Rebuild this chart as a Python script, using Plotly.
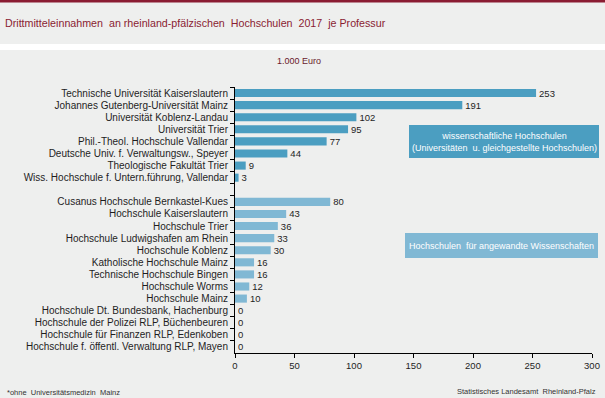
import plotly.graph_objects as go

# ---- data ----
uni_names = [
    "Technische Universität Kaiserslautern",
    "Johannes Gutenberg-Universität Mainz",
    "Universität Koblenz-Landau",
    "Universität Trier",
    "Phil.-Theol. Hochschule Vallendar",
    "Deutsche Univ. f. Verwaltungsw., Speyer",
    "Theologische Fakultät Trier",
    "Wiss. Hochschule f. Untern.führung, Vallendar",
]
uni_values = [253, 191, 102, 95, 77, 44, 9, 3]

fh_names = [
    "Cusanus Hochschule Bernkastel-Kues",
    "Hochschule Kaiserslautern",
    "Hochschule Trier",
    "Hochschule Ludwigshafen am Rhein",
    "Hochschule Koblenz",
    "Katholische Hochschule Mainz",
    "Technische Hochschule Bingen",
    "Hochschule Worms",
    "Hochschule Mainz",
    "Hochschule Dt. Bundesbank, Hachenburg",
    "Hochschule der Polizei RLP, Büchenbeuren",
    "Hochschule für Finanzen RLP, Edenkoben",
    "Hochschule f. öffentl. Verwaltung RLP, Mayen",
]
fh_values = [80, 43, 36, 33, 30, 16, 16, 12, 10, 0, 0, 0, 0]

gap_label = " "
x_ticks = [0, 50, 100, 150, 200, 250, 300]

title = "Drittmitteleinnahmen  an rheinland-pfälzischen  Hochschulen  2017  je Professur"
unit = "1.000 Euro"
footnote = "*ohne  Universitätsmedizin  Mainz"
source = "Statistisches Landesamt  Rheinland-Pfalz"
uni_box_text = "wissenschaftliche Hochschulen<br>(Universitäten  u. gleichgestellte Hochschulen)"
fh_box_text = "Hochschulen  für angewandte Wissenschaften"

# ---- style ----
W, H = 605, 398
L, R, T, B = 235, 592, 87, 353
FONT = "Liberation Sans, Arial, sans-serif"
BG = "#EEEFEE"
MAROON = "#8A1C32"
UNI_COL = "#4B9EC1"
FH_COL = "#80B8D4"
TXT = "#1E1E1E"


def px(xp):
    return (xp - L) / (R - L)


def py(yp):
    return (B - yp) / (B - T)


categories = uni_names + [gap_label] + fh_names

fig = go.Figure()
fig.add_trace(go.Bar(
    y=uni_names, x=uni_values, orientation="h",
    marker=dict(color=UNI_COL, line=dict(width=0)),
    text=[str(v) for v in uni_values], textposition="outside", constraintext="none",
    textfont=dict(size=9.5, color=TXT, family=FONT),
    cliponaxis=False, showlegend=False, hoverinfo="x+y",
))
fig.add_trace(go.Bar(
    y=[gap_label], x=[0], orientation="h",
    marker=dict(color="rgba(0,0,0,0)"), showlegend=False, hoverinfo="skip",
))
fig.add_trace(go.Bar(
    y=fh_names, x=fh_values, orientation="h",
    marker=dict(color=FH_COL, line=dict(width=0)),
    text=[str(v) for v in fh_values], textposition="outside", constraintext="none",
    textfont=dict(size=9.5, color=TXT, family=FONT),
    cliponaxis=False, showlegend=False, hoverinfo="x+y",
))

shapes = [
    # maroon top line
    dict(type="rect", xref="paper", yref="paper", x0=px(0), x1=px(W), y0=py(2.5), y1=py(0),
         fillcolor=MAROON, line=dict(width=0), layer="below"),
    # white separator strip
    dict(type="rect", xref="paper", yref="paper", x0=px(0), x1=px(W), y0=py(50), y1=py(44),
         fillcolor="white", line=dict(width=0), layer="below"),
    # group boxes
    dict(type="rect", xref="paper", yref="paper", x0=px(409), x1=px(599), y0=py(158), y1=py(125),
         fillcolor=UNI_COL, line=dict(width=0)),
    dict(type="rect", xref="paper", yref="paper", x0=px(405), x1=px(598), y0=py(258), y1=py(233),
         fillcolor=FH_COL, line=dict(width=0)),
]

annotations = [
    dict(text=title, xref="paper", yref="paper", x=px(3), y=py(23), xanchor="left", yanchor="middle",
         showarrow=False, font=dict(size=10.7, color=MAROON, family=FONT)),
    dict(text=unit, xref="paper", yref="paper", x=px(299), y=py(61), xanchor="center", yanchor="middle",
         showarrow=False, font=dict(size=9, color="#6A1A2C", family=FONT)),
    dict(text=footnote, xref="paper", yref="paper", x=px(5), y=py(392), xanchor="left", yanchor="middle",
         showarrow=False, font=dict(size=7.5, color="#333", family=FONT)),
    dict(text=source, xref="paper", yref="paper", x=px(598), y=py(391), xanchor="right", yanchor="middle",
         showarrow=False, font=dict(size=7.5, color="#333", family=FONT)),
    dict(text=uni_box_text, xref="paper", yref="paper", x=px(504), y=py(141.5), xanchor="center",
         yanchor="middle", showarrow=False, font=dict(size=9, color="white", family=FONT)),
    dict(text=fh_box_text, xref="paper", yref="paper", x=px(501.5), y=py(245.5), xanchor="center",
         yanchor="middle", showarrow=False, font=dict(size=9, color="white", family=FONT)),
]

fig.update_layout(
    width=W, height=H,
    margin=dict(l=L, r=W - R, t=T, b=H - B, pad=0, autoexpand=False),
    paper_bgcolor=BG, plot_bgcolor=BG,
    barmode="overlay", bargap=0.33,
    font=dict(family=FONT, size=9, color=TXT),
    shapes=shapes, annotations=annotations,
    xaxis=dict(
        range=[0, 300], tickvals=x_ticks, ticktext=[str(v) for v in x_ticks],
        showgrid=False, zeroline=False, showline=True, linecolor="black", linewidth=1,
        ticks="outside", ticklen=4, tickcolor="black", tickfont=dict(size=9.5, color=TXT),
        fixedrange=True,
    ),
    yaxis=dict(
        type="category", categoryorder="array", categoryarray=categories,
        autorange="reversed", showgrid=False, zeroline=False,
        showline=True, linecolor="black", linewidth=1,
        ticks="outside", ticklen=4, tickcolor="black", tickson="boundaries",
        ticklabelstandoff=4,
        tickfont=dict(size=10, color=TXT), fixedrange=True,
    ),
)

fig.write_html(
    "out.html",
    config={"displayModeBar": False},
    post_script="document.body.style.margin='0';document.body.style.overflow='hidden';",
)
